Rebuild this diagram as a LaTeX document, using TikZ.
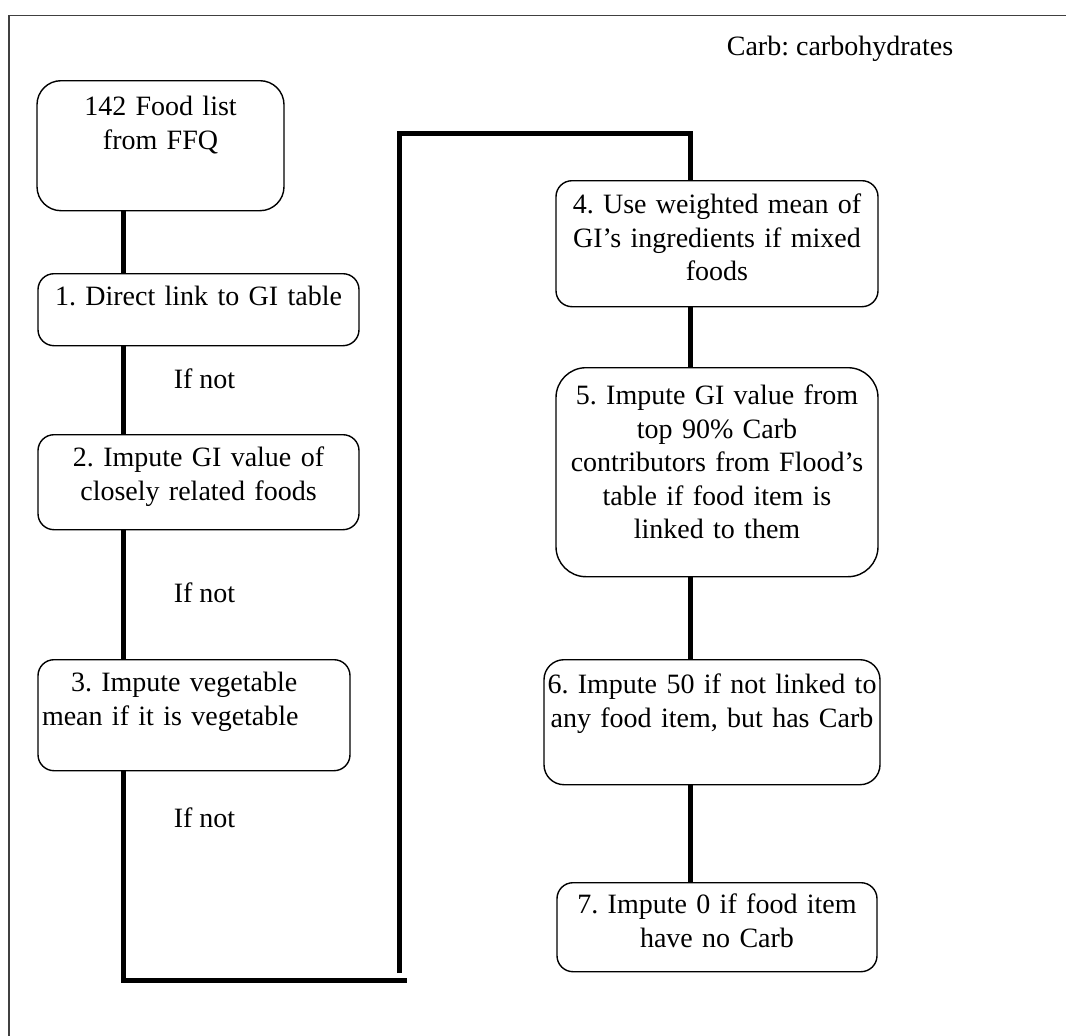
\documentclass[tikz,border=0pt]{standalone}
\usepackage{fontspec}
\setmainfont{Liberation Serif}
\frenchspacing

\begin{document}
\begin{tikzpicture}[x=1pt,y=-1pt,
		every node/.style={font=\fontsize{28}{33.5}\selectfont},
		stepbox/.style={draw,line width=1.4pt,rounded corners=16pt,anchor=north,
			inner xsep=2pt,inner ysep=0pt,align=center},
		link/.style={line width=5pt}]
		
		\useasboundingbox (0,0) rectangle (1066,1036);
		\draw[line width=1.5pt,black!75] (1066,15.5) -- (9,15.5) -- (9,1036);
		
		\node[anchor=base] (key) at (840,55) {Carb: carbohydrates};
		
		\node[stepbox,rounded corners=24pt,text width=243pt,text height=35pt,text depth=95pt] (ffq) at (160.5,80) {142 Food list\\from FFQ};
		\node[stepbox,text width=317pt,text height=32pt,text depth=40pt] (s1) at (198.5,273) {1. Direct link to GI table};
		\node[stepbox,text width=317pt,text height=32pt,text depth=63pt] (s2) at (198.5,434) {2. Impute GI value of\\closely related foods};
		\node[stepbox,align=left,text width=308pt,text height=32pt,text depth=79pt] (s3) at (194,659) {\hspace*{31pt}3. Impute vegetable\\\hspace*{2pt}mean if it is vegetable};
		
		\node[stepbox,text width=318pt,text height=33pt,text depth=93pt] (s4) at (717,180) {4. Use weighted mean of\\GI's ingredients if mixed\\foods};
		\node[stepbox,rounded corners=30pt,text width=318pt,text height=37pt,text depth=172pt] (s5) at (717,367) {5. Impute GI value from\\top 90\% Carb\\contributors from Flood's\\table if food item is\\linked to them};
		\node[stepbox,rounded corners=20pt,inner xsep=0pt,text width=336pt,text height=34pt,text depth=91pt] (s6) at (712,659) {6. Impute 50 if not linked to\\any food item, but has Carb};
		\node[stepbox,text width=316pt,text height=31pt,text depth=58pt] (s7) at (717,882) {7. Impute 0 if food item\\have no Carb};
		
		\node[anchor=base] (ifnot1) at (204.5,388) {If not};
		\node[anchor=base] (ifnot2) at (204.5,602) {If not};
		\node[anchor=base] (ifnot3) at (204.5,827) {If not};
		
		\coordinate (lspine) at (123,0);
		\coordinate (rspine) at (690,0);
		\coordinate (turnL) at (123,980);
		\coordinate (turnR) at (407,980);
		\coordinate (riseB) at (399,973);
		\coordinate (riseT) at (399,133);
		
		\draw[link] (ffq.south -| lspine) -- (s1.north -| lspine);
		\draw[link] (s1.south -| lspine) -- (s2.north -| lspine);
		\draw[link] (s2.south -| lspine) -- (s3.north -| lspine);
		\draw[link] (s3.south -| lspine) -- (turnL) -- (turnR);
		\draw[link] (riseB) -- (riseT) -| (s4.north -| rspine);
		\draw[link] (s4.south -| rspine) -- (s5.north -| rspine);
		\draw[link] (s5.south -| rspine) -- (s6.north -| rspine);
		\draw[link] (s6.south -| rspine) -- (s7.north -| rspine);
		\end{tikzpicture}
\end{document}
